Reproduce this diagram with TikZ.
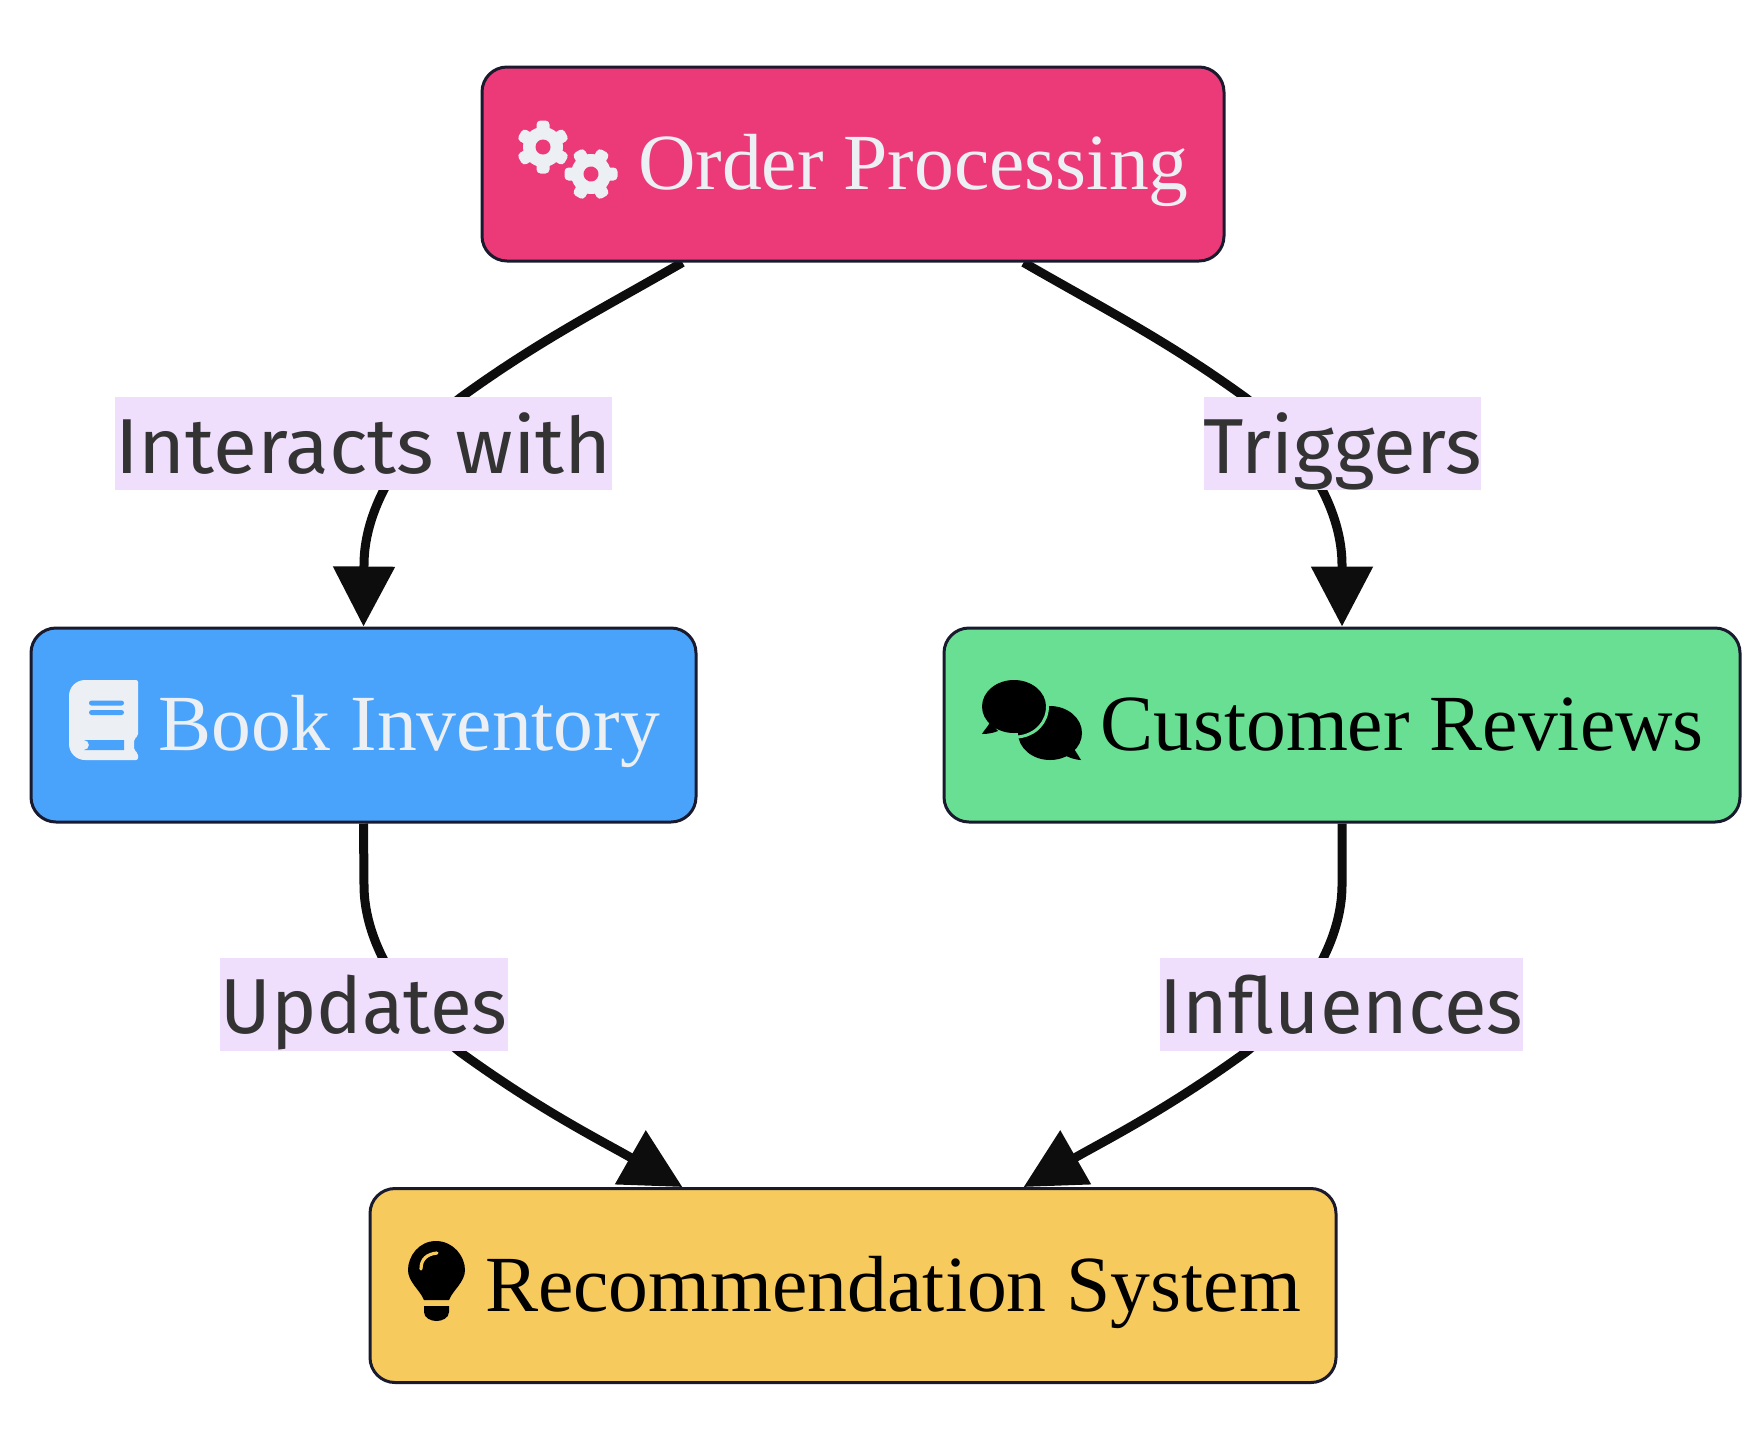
\documentclass[tikz,border=0pt]{standalone}
\usepackage{fontspec}
\setmainfont{Liberation Serif}
\newfontfamily\labelfont{Fira Sans}
\usetikzlibrary{arrows.meta,backgrounds}
\definecolor{strokeC}{HTML}{1A1A2E}
\definecolor{edgeC}{HTML}{0D0D0D}
\definecolor{pinkC}{HTML}{EC3977}
\definecolor{blueC}{HTML}{4AA3FB}
\definecolor{greenC}{HTML}{68DF93}
\definecolor{yellowC}{HTML}{F7CA5E}
\definecolor{lightC}{HTML}{ECEFF4}
\definecolor{labelbg}{HTML}{EFDFFC}
\definecolor{labeltx}{HTML}{333333}
\tikzset{
  boxnode/.style={draw=strokeC,line width=3pt,rounded corners=25pt,inner sep=0pt,minimum height=194pt},
  boxtext/.style={anchor=base west,inner sep=0pt,font=\fontsize{79.6}{80}\selectfont},
  edgelabel/.style={fill=labelbg,text=labeltx,inner sep=0pt,minimum height=93pt,text height=76pt,text depth=17pt,font=\labelfont\fontsize{78}{78}\selectfont},
  edgeline/.style={draw=edgeC,line width=9pt,-{Triangle[length=60pt,width=60pt]}}
}
\newcommand\gearicon[5]{% x y rotation fill hole
  \begin{scope}[shift={(#1,#2)},rotate=#3]
    \fill[#4] (0,0) circle (20pt);
    \foreach \a in {0,60,...,300}{
      \fill[#4,rounded corners=4pt,rotate=\a] (-6.5,0) rectangle (6.5,-26.5);
    }
    \fill[#5] (0,0) circle (7.5pt);
  \end{scope}
}
\begin{document}
\begin{tikzpicture}[x=1pt,y=-1pt]
\useasboundingbox (0,0) rectangle (1758,1444);
% boxes
\node[boxnode,fill=pinkC,minimum width=742pt] (order) at (853,164) {};
\node[boxnode,fill=blueC,minimum width=665pt] (book) at (363.5,725) {};
\node[boxnode,fill=greenC,minimum width=796pt] (cust) at (1342,725) {};
\node[boxnode,fill=yellowC,minimum width=966pt] (rec) at (853,1285.5) {};
% box texts
\node[boxtext,text=lightC] (ordert) at (638,189) {Order Processing};
\node[boxtext,text=lightC] (bookt) at (158,750) {Book Inventory};
\node[boxtext,text=black] (custt) at (1100,750) {Customer Reviews};
\node[boxtext,text=black] (rect) at (485,1311) {Recommendation System};
% labels
\node[edgelabel,minimum width=495pt] (l1) at (363.5,443.5) {\scalebox{1.03}[1]{Interacts with}};
\node[edgelabel,minimum width=277pt] (l2) at (1342.5,443.5) {Triggers};
\node[edgelabel,minimum width=288pt] (l3) at (364,1004) {\scalebox{0.98}[1]{Updates}};
\node[edgelabel,minimum width=363pt] (l4) at (1341.5,1004) {Influences};
% edges
\begin{pgfonlayer}{background}
\draw[edgeline] (order.210) .. controls (600,310) and (540,340) .. (460,398)
   .. controls (420,430) and (364,495) .. (364,565) -- (book.north);
\draw[edgeline] (order.-30) .. controls (1106,310) and (1166,340) .. (1246,398)
   .. controls (1286,430) and (1342,495) .. (1342,565) -- (cust.north);
\draw[edgeline] (book.south) -- (364,885) .. controls (364,955) and (420,1020) .. (460,1052)
   .. controls (540,1110) and (600,1140) .. (rec.150);
\draw[edgeline] (cust.south) -- (1342,885) .. controls (1342,955) and (1286,1020) .. (1246,1052)
   .. controls (1166,1110) and (1106,1140) .. (rec.30);
\end{pgfonlayer}
% gears
\gearicon{543}{147}{0}{lightC}{pinkC}
\gearicon{591}{174}{30}{lightC}{pinkC}
% book
\fill[lightC,rounded corners=2pt]
  (88,680) -- (138,680) -- (138,736) -- (134,739) -- (134,750) -- (138,753) -- (138,760)
  -- (88,760) [rounded corners=16pt] -- (69,760) -- (69,680) [rounded corners=2pt] -- cycle;
\fill[blueC,rounded corners=2.5pt] (89,700.5) rectangle (124,705.5);
\fill[blueC,rounded corners=2.5pt] (89,710) rectangle (124,715);
\fill[blueC] (84,740) -- (124,740) -- (124,750) -- (84,750) arc (90:270:-5pt) -- cycle;
% chat bubbles
\fill[black] (1050,733) ellipse (32pt and 27pt);
\fill[black] (1071,745) .. controls (1075,750) and (1078,755) .. (1081,760) .. controls (1076,760) and (1070,758) .. (1062,754) -- cycle;
\fill[black] (1014,706.5) ellipse (32pt and 26.5pt);
\draw[greenC,line width=3pt] (1047.5,705) .. controls (1048,722) and (1036,735) .. (1018,737);
\fill[black] (990,722) .. controls (988,727) and (984,730) .. (982,734) .. controls (988,734) and (993,733) .. (998,731) -- cycle;
% bulb
\fill[black] (436,1241) .. controls (453,1241) and (465,1256) .. (465,1270)
  .. controls (465,1282) and (453,1290) .. (449,1300) -- (424,1300)
  .. controls (420,1290) and (408,1282) .. (408,1270)
  .. controls (408,1256) and (419,1241) .. (436,1241) -- cycle;
\fill[black] (424,1306) -- (449,1306) -- (449,1312) .. controls (449,1318) and (442,1321) .. (436.5,1321)
  .. controls (431,1321) and (424,1318) .. (424,1312) -- cycle;
\draw[yellowC,line width=3.2pt,line cap=round] (421,1269) .. controls (421,1259) and (427,1254) .. (437,1253);
\end{tikzpicture}
\end{document}
